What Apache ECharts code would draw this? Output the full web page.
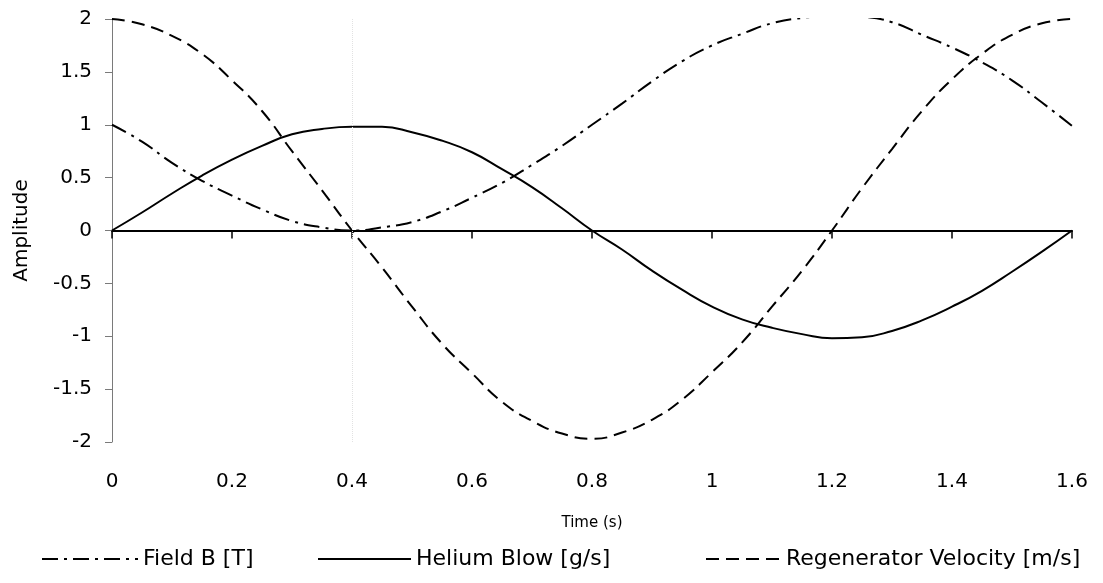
<!DOCTYPE html>
<html>
<head>
<meta charset="utf-8">
<script src="https://cdn.jsdelivr.net/npm/echarts@6/dist/echarts.min.js"></script>
<style>
  html, body { margin: 0; padding: 0; background: #ffffff; }
  #chart { width: 1103px; height: 583px; }
</style>
</head>
<body>
<div id="chart"></div>
<script>
// Sample times (s)
const TIME = [0, 0.05, 0.1, 0.15, 0.2, 0.25, 0.3, 0.35, 0.4, 0.45, 0.5, 0.55, 0.6, 0.65, 0.7, 0.75,
              0.8, 0.85, 0.9, 0.95, 1.0, 1.05, 1.1, 1.15, 1.2, 1.25, 1.3, 1.35, 1.4, 1.45, 1.5, 1.55, 1.6];

// Field B [T]
const FIELD_B = [1.0, 0.84, 0.64, 0.47, 0.33, 0.2, 0.09, 0.03, 0.0, 0.03, 0.08, 0.18, 0.31, 0.45, 0.62, 0.8,
                 1.0, 1.2, 1.41, 1.6, 1.75, 1.86, 1.96, 2.01, 2.03, 2.02, 1.97, 1.85, 1.73, 1.59, 1.42, 1.21, 0.99];

// Helium Blow [g/s]
const HELIUM = [0, 0.17, 0.35, 0.52, 0.67, 0.8, 0.91, 0.96, 0.98, 0.98, 0.93, 0.85, 0.74, 0.58, 0.41, 0.21,
                0.0, -0.18, -0.38, -0.56, -0.72, -0.84, -0.92, -0.98, -1.02, -1.01, -0.95, -0.85, -0.72, -0.57, -0.39, -0.2, 0];

// Regenerator Velocity [m/s]
const REGEN = [2.0, 1.95, 1.84, 1.67, 1.42, 1.13, 0.75, 0.38, 0.0, -0.35, -0.72, -1.07, -1.35, -1.62, -1.8, -1.92,
               -1.97, -1.91, -1.79, -1.6, -1.34, -1.06, -0.72, -0.38, 0.0, 0.4, 0.77, 1.13, 1.43, 1.67, 1.85, 1.96, 2.0];

const SERIES_NAMES = ['Field B [T]', 'Helium Blow [g/s]', 'Regenerator Velocity [m/s]'];

const FONT = 'DejaVu Sans';
const INK = '#000000';

function pairs(values) {
  return TIME.map((t, i) => [t, values[i]]);
}

const chart = echarts.init(document.getElementById('chart'), null, { renderer: 'canvas' });

const legendBase = {
  orient: 'horizontal',
  top: 543,
  itemHeight: 14,
  itemGap: 0,
  selectedMode: false,
  itemStyle: { opacity: 0 },
  lineStyle: { width: 2 },
  textStyle: { fontFamily: FONT, fontSize: 22, color: INK }
};

chart.setOption({
  animation: false,
  backgroundColor: '#ffffff',
  grid: { left: 112, right: 31, top: 19, bottom: 141, containLabel: false, outerBoundsMode: 'none' },
  xAxis: [
    {
      // labels and title along the bottom edge
      type: 'value',
      position: 'bottom',
      min: 0,
      max: 1.6,
      interval: 0.2,
      name: 'Time (s)',
      nameLocation: 'middle',
      nameGap: 74,
      nameTextStyle: { fontFamily: FONT, fontSize: 15, color: INK },
      axisLine: { show: false, onZero: false },
      axisTick: { show: false },
      axisLabel: { margin: 30, fontFamily: FONT, fontSize: 20, color: INK },
      splitLine: { show: false }
    },
    {
      // time axis line through zero amplitude
      type: 'value',
      position: 'bottom',
      min: 0,
      max: 1.6,
      interval: 0.2,
      axisLine: { show: true, onZero: true, lineStyle: { color: INK, width: 2 } },
      axisTick: { show: true, length: 8, lineStyle: { color: INK, width: 1.5 } },
      axisLabel: { show: false },
      splitLine: { show: false }
    }
  ],
  yAxis: {
    type: 'value',
    min: -2,
    max: 2,
    interval: 0.5,
    name: 'Amplitude',
    nameLocation: 'middle',
    nameGap: 80,
    nameRotate: 90,
    nameTextStyle: { fontFamily: FONT, fontSize: 20, color: INK },
    axisLine: { show: true, onZero: false, lineStyle: { color: '#7a7a7a', width: 1 } },
    axisTick: { show: true, length: 7, lineStyle: { color: '#7a7a7a', width: 1 } },
    axisLabel: { margin: 20, fontFamily: FONT, fontSize: 20, color: INK },
    splitLine: { show: false }
  },
  legend: [
    Object.assign({}, legendBase, { data: [SERIES_NAMES[0]], left: 36, itemWidth: 96 }),
    Object.assign({}, legendBase, { data: [SERIES_NAMES[1]], left: 312, itemWidth: 93 }),
    Object.assign({}, legendBase, { data: [SERIES_NAMES[2]], left: 700, itemWidth: 75 })
  ],
  series: [
    {
      name: SERIES_NAMES[0],
      type: 'line',
      data: pairs(FIELD_B),
      symbol: 'none',
      smooth: true,
      lineStyle: { color: INK, width: 2, type: [16, 6, 3, 6] },
      itemStyle: { color: INK },
      // faint guide at t = 0.4 s
      markLine: {
        silent: true,
        symbol: 'none',
        label: { show: false },
        lineStyle: { color: '#e2e2e2', width: 1, type: 'dotted' },
        data: [{ xAxis: 0.4 }]
      }
    },
    {
      name: SERIES_NAMES[1],
      type: 'line',
      data: pairs(HELIUM),
      symbol: 'none',
      smooth: true,
      lineStyle: { color: INK, width: 2, type: 'solid' },
      itemStyle: { color: INK }
    },
    {
      name: SERIES_NAMES[2],
      type: 'line',
      data: pairs(REGEN),
      symbol: 'none',
      smooth: true,
      lineStyle: { color: INK, width: 2, type: [13, 7] },
      itemStyle: { color: INK }
    }
  ]
});
</script>
</body>
</html>
